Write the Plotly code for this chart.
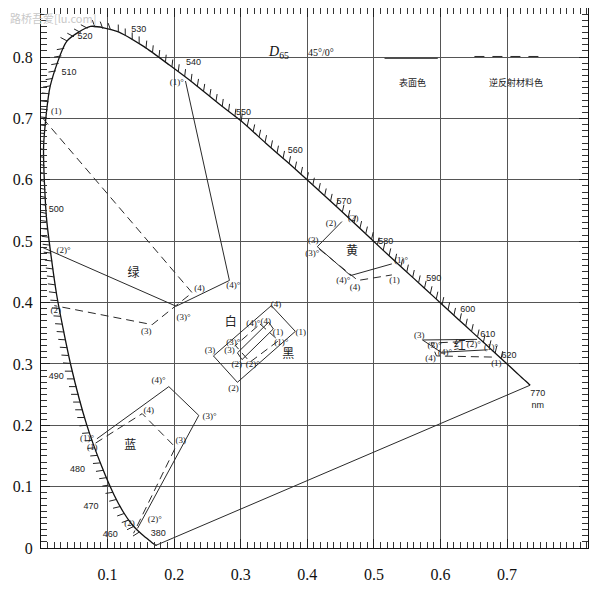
import numpy as np
import plotly.graph_objects as go

# ---------------- data ----------------
# spectral locus (wavelength nm, x, y)
locus_nm = [380, 390, 400, 410, 420, 430, 440, 445, 450, 455, 460, 465, 470, 475, 480, 485,
            490, 495, 500, 505, 510, 515, 520, 525, 530, 535, 540, 545, 550, 555, 560, 565,
            570, 575, 580, 585, 590, 595, 600, 605, 610, 615, 620, 625, 630, 640, 650, 660,
            680, 700, 770]
locus_x = [0.1741, 0.1738, 0.1733, 0.1726, 0.1714, 0.1689, 0.1644, 0.1611, 0.1566, 0.1510,
           0.1440, 0.1355, 0.1241, 0.1096, 0.0913, 0.0687, 0.0454, 0.0235, 0.0082, 0.0039,
           0.0139, 0.0389, 0.0743, 0.1142, 0.1547, 0.1929, 0.2296, 0.2658, 0.3016, 0.3373,
           0.3731, 0.4087, 0.4441, 0.4788, 0.5125, 0.5448, 0.5752, 0.6029, 0.6270, 0.6482,
           0.6658, 0.6801, 0.6915, 0.7006, 0.7079, 0.7190, 0.7260, 0.7300, 0.7334, 0.7347,
           0.7347]
locus_y = [0.0050, 0.0049, 0.0048, 0.0048, 0.0051, 0.0069, 0.0109, 0.0138, 0.0177, 0.0227,
           0.0297, 0.0399, 0.0578, 0.0868, 0.1327, 0.2007, 0.2950, 0.4127, 0.5384, 0.6548,
           0.7530, 0.8260, 0.8500, 0.8420, 0.8170, 0.7870, 0.7570, 0.7250, 0.6950, 0.6600,
           0.6260, 0.5910, 0.5560, 0.5210, 0.4866, 0.4544, 0.4242, 0.3965, 0.3725, 0.3514,
           0.3340, 0.3197, 0.3083, 0.2993, 0.2920, 0.2809, 0.2740, 0.2700, 0.2666, 0.2653,
           0.2653]

wl_labels = ["380", "460", "470", "480", "490", "500", "510", "520", "530", "540", "550",
             "560", "570", "580", "590", "600", "610", "620", "770<br>nm"]
wl_x = [0.176, 0.104, 0.075, 0.055, 0.023, 0.023, 0.042, 0.066, 0.147, 0.229, 0.304,
        0.382, 0.455, 0.518, 0.590, 0.641, 0.671, 0.703, 0.746]
wl_y = [0.023, 0.021, 0.068, 0.128, 0.279, 0.552, 0.774, 0.833, 0.845, 0.790, 0.709,
        0.647, 0.565, 0.499, 0.4395, 0.389, 0.347, 0.314, 0.242]

# colour regions: solid = surface colour, dashed = retroreflective material colour
green_surface_x = [0.217, 0.283, 0.203, 0.002]
green_surface_y = [0.761, 0.436, 0.394, 0.490]
green_retro_x = [0.003, 0.227, 0.167, 0.020]
green_retro_y = [0.700, 0.416, 0.364, 0.395]

yellow_surface_x = [0.452, 0.415, 0.465, 0.527]
yellow_surface_y = [0.532, 0.491, 0.444, 0.463]
yellow_retro_x = [0.418, 0.476, 0.527]
yellow_retro_y = [0.487, 0.436, 0.445]

red_surface_x = [0.655, 0.573, 0.601, 0.671]
red_surface_y = [0.340, 0.339, 0.319, 0.323]
red_retro_x = [0.650, 0.586, 0.594, 0.684]
red_retro_y = [0.337, 0.334, 0.313, 0.311]

blue_surface_x = [0.084, 0.192, 0.237, 0.145]
blue_surface_y = [0.178, 0.263, 0.216, 0.032]
blue_retro_x = [0.082, 0.152, 0.202, 0.139]
blue_retro_y = [0.171, 0.219, 0.164, 0.024]

black_x = [0.382, 0.295, 0.259, 0.346, 0.382]
black_y = [0.353, 0.270, 0.313, 0.395, 0.353]
white_surface_x = [0.342, 0.349, 0.302, 0.295, 0.342]
white_surface_y = [0.368, 0.357, 0.307, 0.318, 0.368]
white_retro_x = [0.329, 0.357, 0.314, 0.292, 0.329]
white_retro_y = [0.365, 0.338, 0.303, 0.330, 0.365]

# corner / colour labels
corner_text = ["(1)°", "(1)", "(2)°", "(2)", "(3)", "(3)°", "(4)", "(4)°",
               "(2)", "(2)", "(3)", "(3)°", "(4)°", "(4)", "(1)°", "(1)",
               "(3)", "(3)°", "(4)°", "(4)", "(2)°", "(1)°", "(1)",
               "(4)", "(1)", "(2)", "(3)", "(4)°", "(4)", "(1)", "(1)°", "(3)°", "(3)", "(2)", "(2)°",
               "(4)°", "(3)°", "(4)", "(3)", "(1)°", "(1)", "(2)", "(2)°"]
corner_x = [0.204, 0.023, 0.034, 0.022, 0.158, 0.214, 0.238, 0.289,
            0.4355, 0.469, 0.409, 0.4075, 0.454, 0.4715, 0.541, 0.531,
            0.568, 0.591, 0.607, 0.585, 0.650, 0.676, 0.684,
            0.353, 0.390, 0.289, 0.254, 0.319, 0.3375, 0.356, 0.361, 0.289, 0.283, 0.294, 0.318,
            0.1767, 0.253, 0.1617, 0.210, 0.069, 0.077, 0.133, 0.171]
corner_y = [0.758, 0.711, 0.485, 0.387, 0.353, 0.376, 0.423, 0.428,
            0.529, 0.536, 0.501, 0.479, 0.436, 0.424, 0.468, 0.436,
            0.346, 0.330, 0.319, 0.308, 0.332, 0.326, 0.300,
            0.397, 0.350, 0.260, 0.322, 0.366, 0.369, 0.350, 0.334, 0.334, 0.321, 0.299, 0.299,
            0.273, 0.2135, 0.2244, 0.1756, 0.178, 0.163, 0.040, 0.0455]

colour_names = ["绿", "黄", "红", "蓝", "白", "黑"]
colour_x = [0.139, 0.467, 0.629, 0.134, 0.285, 0.3715]
colour_y = [0.447, 0.482, 0.327, 0.166, 0.366, 0.314]

x_ticks = [0.1, 0.2, 0.3, 0.4, 0.5, 0.6, 0.7]
y_ticks = [0, 0.1, 0.2, 0.3, 0.4, 0.5, 0.6, 0.7, 0.8]
x_tick_text = ["0.1", "0.2", "0.3", "0.4", "0.5", "0.6", "0.7"]
y_tick_text = ["0", "0.1", "0.2", "0.3", "0.4", "0.5", "0.6", "0.7", "0.8"]

# ---------------- layout constants ----------------
# the page body adds an 8px margin, so the figure is sized to fit inside the 600x594 window
W, H = 592, 586
ML, MR, MT, MB = 33, 12, 0, 46
XR = [0, 0.8216]
YR = [0, 0.880]
SX = (W - ML - MR) / (XR[1] - XR[0])
SY = (H - MT - MB) / (YR[1] - YR[0])

LINE = "#2a2a2a"
fig = go.Figure()

# spectral locus + purple line
fig.add_trace(go.Scatter(x=locus_x, y=locus_y, mode="lines",
                         line=dict(color="#111", width=1.3, shape="spline", smoothing=0.6),
                         hoverinfo="skip", showlegend=False))
fig.add_trace(go.Scatter(x=[locus_x[0], locus_x[-1]], y=[locus_y[0], locus_y[-1]], mode="lines",
                         line=dict(color=LINE, width=1), hoverinfo="skip", showlegend=False))

# hatch marks on the outside of the locus (decoration derived from the locus data)
nm = np.array(locus_nm)
sel = (nm >= 455) & (nm <= 622)
P = np.column_stack([np.array(locus_x)[sel] * SX, np.array(locus_y)[sel] * SY])
seg = np.diff(P, axis=0)
seglen = np.hypot(seg[:, 0], seg[:, 1])
cum = np.concatenate([[0], np.cumsum(seglen)])
hx, hy = [], []
for s in np.arange(3, cum[-1], 8.0):
    i = min(np.searchsorted(cum, s) - 1, len(seg) - 1)
    t = (s - cum[i]) / seglen[i]
    p = P[i] + t * seg[i]
    d = seg[i] / seglen[i]
    n = np.array([-d[1], d[0]])
    if d[0] > 0.3:
        a = np.radians(30)
    elif d[0] < 0:
        a = np.radians(-15)
    else:
        a = 0.0
    n = np.array([n[0] * np.cos(a) - n[1] * np.sin(a), n[0] * np.sin(a) + n[1] * np.cos(a)])
    q = p + 7.5 * n
    hx += [p[0] / SX, q[0] / SX, None]
    hy += [p[1] / SY, q[1] / SY, None]
fig.add_trace(go.Scatter(x=hx, y=hy, mode="lines", line=dict(color="#222", width=1),
                         hoverinfo="skip", showlegend=False))

DASH = "8px,5px"


def add_poly(xs, ys, dashed):
    fig.add_trace(go.Scatter(x=xs, y=ys, mode="lines",
                             line=dict(color=LINE, width=1, dash=DASH if dashed else "solid"),
                             hoverinfo="skip", showlegend=False))


add_poly(green_surface_x, green_surface_y, False)
add_poly(green_retro_x, green_retro_y, True)
add_poly(yellow_surface_x, yellow_surface_y, False)
add_poly(yellow_retro_x, yellow_retro_y, True)
add_poly(red_surface_x, red_surface_y, False)
add_poly(red_retro_x, red_retro_y, True)
add_poly(blue_surface_x, blue_surface_y, False)
add_poly(blue_retro_x, blue_retro_y, True)
add_poly(black_x, black_y, False)
add_poly(white_surface_x, white_surface_y, False)
add_poly(white_retro_x, white_retro_y, True)

# text
fig.add_trace(go.Scatter(x=wl_x, y=wl_y, mode="text", text=wl_labels,
                         textfont=dict(family="Liberation Sans, Arial", size=9, color="#222"),
                         hoverinfo="skip", showlegend=False))
fig.add_trace(go.Scatter(x=corner_x, y=corner_y, mode="text", text=corner_text,
                         textfont=dict(family="Liberation Serif, Times New Roman", size=9, color="#222"),
                         hoverinfo="skip", showlegend=False))
fig.add_trace(go.Scatter(x=colour_x, y=colour_y, mode="text", text=colour_names,
                         textfont=dict(family="Noto Sans CJK SC", size=12, color="#222"),
                         hoverinfo="skip", showlegend=False))

# legend block
fig.add_annotation(x=0.357, y=0.807, text="<i>D</i><sub>65</sub>", showarrow=False,
                   font=dict(family="Liberation Serif", size=14, color="#111"))
fig.add_annotation(x=0.420, y=0.807, text="45°/0°", showarrow=False,
                   font=dict(family="Liberation Serif", size=10, color="#111"))
fig.add_shape(type="line", x0=0.516, x1=0.596, y0=0.798, y1=0.798,
              line=dict(color=LINE, width=1))
fig.add_shape(type="line", x0=0.651, x1=0.759, y0=0.801, y1=0.801,
              line=dict(color=LINE, width=1, dash="10px,8px"))
fig.add_annotation(x=0.558, y=0.759, text="表面色", showarrow=False,
                   font=dict(family="Noto Sans CJK SC", size=9, color="#222"))
fig.add_annotation(x=0.714, y=0.759, text="逆反射材料色", showarrow=False,
                   font=dict(family="Noto Sans CJK SC", size=9, color="#222"))
fig.add_annotation(xref="paper", yref="paper", x=-33 / 547, y=1.0, xanchor="left", yanchor="top",
                   text="路桥吾爱[lu.com]", showarrow=False,
                   font=dict(family="Noto Sans CJK SC", size=11, color="#c8c8c8"))

axis_common = dict(showline=True, linecolor="#111", linewidth=1.2, mirror="ticks",
                   ticks="inside", ticklen=9, tickcolor="#222", tickwidth=1,
                   showgrid=True, gridcolor="#555", gridwidth=1, zeroline=False,
                   automargin=False,
                   tickfont=dict(family="Liberation Serif, Times New Roman", size=16, color="#111"),
                   minor=dict(dtick=0.01, ticks="inside", ticklen=6, tickcolor="#333",
                              tickwidth=1, showgrid=False))
fig.update_xaxes(range=XR, tickmode="array", tickvals=x_ticks, ticktext=x_tick_text,
                 ticklabelstandoff=12, **axis_common)
fig.update_yaxes(range=YR, tickmode="array", tickvals=y_ticks, ticktext=y_tick_text,
                 ticklabelstandoff=4, **axis_common)

fig.update_layout(width=W, height=H, margin=dict(l=ML, r=MR, t=MT, b=MB, autoexpand=False),
                  plot_bgcolor="white", paper_bgcolor="white", showlegend=False)

fig.write_html("out.html")
